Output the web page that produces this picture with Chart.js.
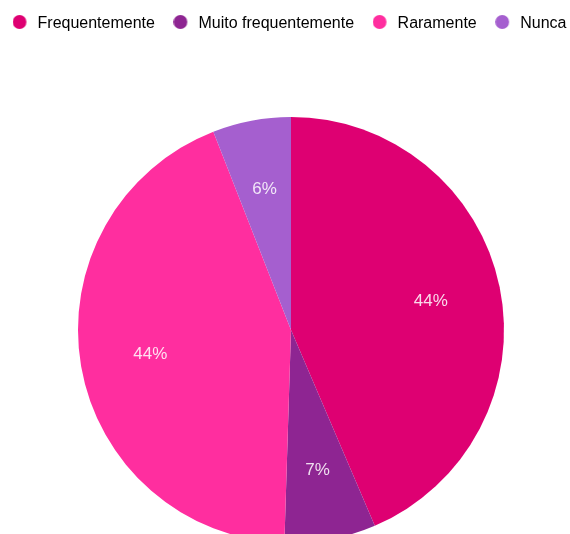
<!DOCTYPE html>
<html>
<head>
<meta charset="utf-8">
<script src="https://cdn.jsdelivr.net/npm/chart.js@4"></script>
<style>
  html, body { margin: 0; padding: 0; background: #fff; overflow: hidden; }
  #wrap { width: 570px; height: 534px; overflow: hidden; }
</style>
</head>
<body>
<div id="wrap"><canvas id="freq-chart" width="570" height="543"></canvas></div>
<script>
const categories = ['Frequentemente', 'Muito frequentemente', 'Raramente', 'Nunca'];
const percentages = [44, 7, 44, 6];
const sliceColors = ['#de0072', '#8e2592', '#ff2e9f', '#a55fcf'];

// round legend marker, sitting at the top left of a 17px box
function dot(color) {
  const c = document.createElement('canvas');
  c.width = 17;
  c.height = 17;
  const g = c.getContext('2d');
  g.fillStyle = color;
  g.beginPath();
  g.arc(7, 7, 6.9, 0, Math.PI * 2);
  g.fill();
  return c;
}

// writes the percentage inside each slice
const sliceLabels = {
  id: 'sliceLabels',
  afterDatasetsDraw(chart) {
    const ctx = chart.ctx;
    const meta = chart.getDatasetMeta(0);
    ctx.save();
    ctx.font = '17px "Liberation Sans", Arial, sans-serif';
    ctx.fillStyle = 'rgba(255,255,255,0.85)';
    ctx.textAlign = 'center';
    ctx.textBaseline = 'middle';
    meta.data.forEach((arc, i) => {
      const p = arc.getProps(['x', 'y', 'startAngle', 'endAngle', 'outerRadius'], true);
      const mid = (p.startAngle + p.endAngle) / 2;
      const r = p.outerRadius * 0.67;
      ctx.fillText(percentages[i] + '%', p.x + Math.cos(mid) * r, p.y + Math.sin(mid) * r);
    });
    ctx.restore();
  }
};

// legend kept on one row, wider than the pie area, with a tall gap under it
const legendRow = {
  id: 'legendRow',
  afterInit(chart) {
    const fit = chart.legend.fit;
    chart.legend.fit = function () {
      const mw = this.maxWidth;
      this.maxWidth = mw + 80;
      fit.call(this);
      this.maxWidth = mw;
      this.width = mw;
      this.height = 117;
    };
  },
  afterLayout(chart) {
    const lg = chart.legend;
    lg.left = -21;
    lg.right = 600;
    lg.width = lg.right - lg.left;
    lg.top = -3;
  }
};

new Chart(document.getElementById('freq-chart'), {
  type: 'pie',
  data: {
    labels: categories,
    datasets: [{
      data: percentages,
      backgroundColor: sliceColors,
      borderWidth: 0
    }]
  },
  options: {
    responsive: false,
    animation: false,
    layout: { padding: { top: 0, left: 12, right: 0, bottom: 0 } },
    plugins: {
      legend: {
        position: 'top',
        labels: {
          usePointStyle: true,
          pointStyleWidth: 17,
          boxHeight: 14,
          padding: 18.5,
          color: '#222',
          font: { family: '"Liberation Sans", Arial, sans-serif', size: 16 },
          generateLabels(chart) {
            return categories.map((name, i) => ({
              text: name,
              fillStyle: sliceColors[i],
              strokeStyle: sliceColors[i],
              lineWidth: 0,
              pointStyle: dot(sliceColors[i]),
              hidden: false,
              index: i
            }));
          }
        }
      },
      tooltip: { enabled: false }
    }
  },
  plugins: [sliceLabels, legendRow]
});
</script>
</body>
</html>
